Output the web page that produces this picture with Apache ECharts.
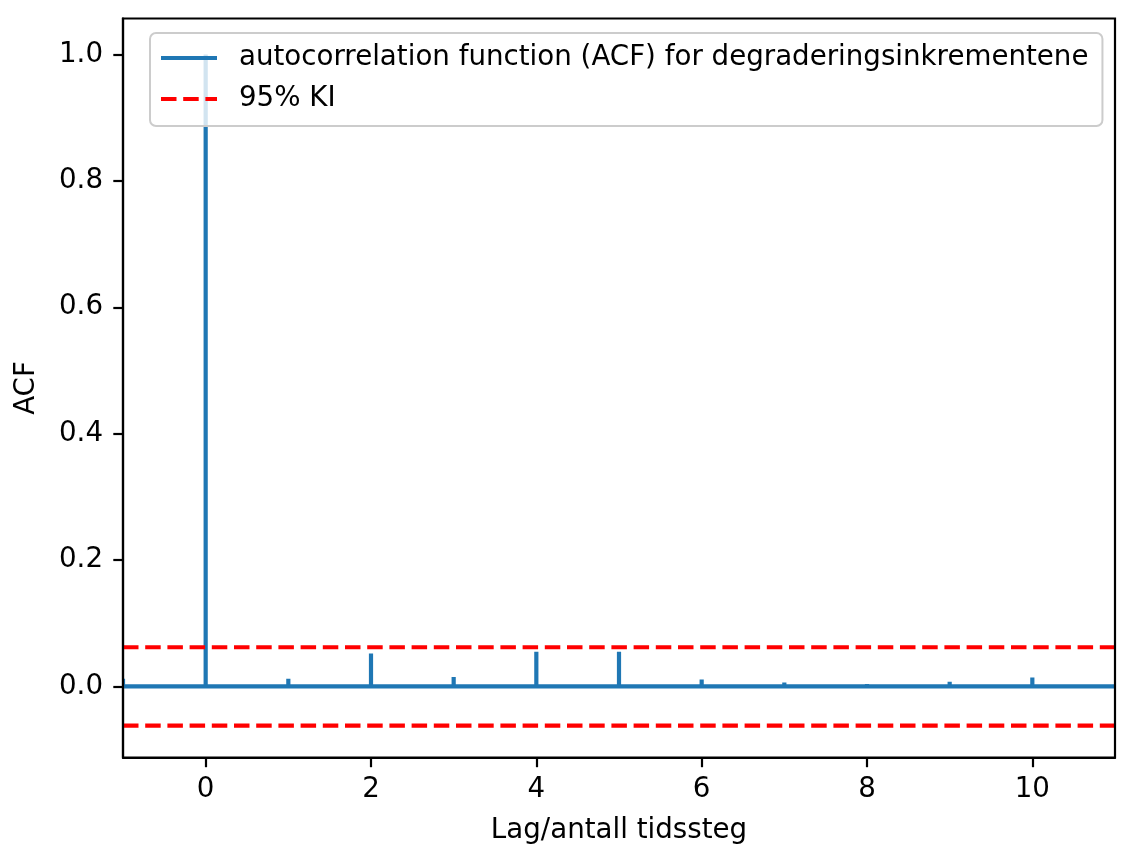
<!DOCTYPE html>
<html>
<head>
<meta charset="utf-8">
<script src="https://cdn.jsdelivr.net/npm/echarts@6/dist/echarts.min.js"></script>
<style>
html,body{margin:0;padding:0;background:#fff;}
#chart{width:1134px;height:865px;}
</style>
</head>
<body>
<div id="chart"></div>
<script>
const lags = [-1, 0, 1, 2, 3, 4, 5, 6, 7, 8, 9, 10, 11];
const acfValues = [0.012, 1.0, 0.012, 0.052, 0.015, 0.055, 0.055, 0.011, 0.006, 0.004, 0.0075, 0.014, 0.0];
const ciBound = 0.062;
const xTicks = [0, 2, 4, 6, 8, 10];
const yTicks = [0.0, 0.2, 0.4, 0.6, 0.8, 1.0];
const xRange = [-1, 11];
const yRange = [-0.1125, 1.057];

const acfName = 'autocorrelation function (ACF) for degraderingsinkrementene';
const ciName = '95% KI';
const FONT = 'DejaVu Sans';
const FS = 27.7;

const stemData = lags.map((l, i) => [l, acfValues[i]]);

const solidIcon = 'path://M0,0h56v4.2h-56z';
const dashIcon = 'path://M0,0h15.5v4.2h-15.5z M22.2,0h15.5v4.2h-15.5z M44.4,0h11.6v4.2h-11.6z';

const chart = echarts.init(document.getElementById('chart'), null, {renderer: 'canvas'});
chart.setOption({
  animation: false,
  backgroundColor: '#ffffff',
  textStyle: {fontFamily: FONT},
  grid: {left: 123, right: 19, top: 18.5, bottom: 107.5, show: true, borderColor: '#000', borderWidth: 2.2, backgroundColor: 'transparent', z: 10},
  legend: {
    left: 150, top: 33,
    orient: 'vertical',
    padding: [10, 14, 12, 11],
    itemGap: 11,
    itemWidth: 56,
    itemHeight: 4.2,
    backgroundColor: 'rgba(255,255,255,0.8)',
    borderColor: '#cccccc',
    borderWidth: 2,
    borderRadius: 6,
    itemStyle: {borderWidth: 0},
    textStyle: {fontFamily: FONT, fontSize: FS, color: '#000', lineHeight: 30, padding: [0, 0, 0, 17]},
    data: [
      {name: acfName, icon: solidIcon, itemStyle: {color: '#1f77b4', borderWidth: 0}},
      {name: ciName, icon: dashIcon, itemStyle: {color: '#ff0000', borderWidth: 0}}
    ]
  },
  xAxis: {
    type: 'value', min: xRange[0], max: xRange[1],
    name: 'Lag/antall tidssteg', nameLocation: 'middle', nameGap: 59,
    nameTextStyle: {fontFamily: FONT, fontSize: FS, color: '#000'},
    axisLine: {show: true, onZero: false, lineStyle: {color: '#000', width: 2.2}},
    axisTick: {show: true, inside: false, length: 9.7, lineStyle: {color: '#000', width: 2.2}, customValues: xTicks},
    axisLabel: {fontFamily: FONT, fontSize: FS, color: '#000', margin: 18, customValues: xTicks, formatter: v => String(v)},
    splitLine: {show: false}
  },
  yAxis: {
    type: 'value', min: yRange[0], max: yRange[1],
    name: 'ACF', nameLocation: 'middle', nameGap: 82, nameRotate: 90,
    nameTextStyle: {fontFamily: FONT, fontSize: FS, color: '#000'},
    axisLine: {show: true, onZero: false, lineStyle: {color: '#000', width: 2.2}},
    axisTick: {show: true, inside: false, length: 9.7, lineStyle: {color: '#000', width: 2.2}, customValues: yTicks},
    axisLabel: {fontFamily: FONT, fontSize: FS, color: '#000', margin: 20, customValues: yTicks, formatter: v => v.toFixed(1)},
    splitLine: {show: false}
  },
  series: [
    {
      name: acfName, type: 'line',
      data: [[xRange[0], 0], [xRange[1], 0]],
      symbol: 'none', showSymbol: false,
      lineStyle: {color: '#1f77b4', width: 4.2, cap: 'butt'},
      itemStyle: {color: '#1f77b4'},
      z: 3, clip: true
    },
    {
      name: acfName, type: 'custom',
      data: stemData,
      clip: true,
      z: 3,
      renderItem: function (params, api) {
        const x = api.value(0), v = api.value(1);
        const p0 = api.coord([x, 0]);
        const p1 = api.coord([x, v]);
        return {
          type: 'line',
          shape: {x1: p0[0], y1: p0[1], x2: p1[0], y2: p1[1]},
          style: {stroke: '#1f77b4', lineWidth: 4.2, lineCap: 'butt'}
        };
      }
    },
    {
      name: ciName, type: 'line',
      data: [[xRange[0], ciBound], [xRange[1], ciBound], '-', [xRange[0], -ciBound], [xRange[1], -ciBound]],
      connectNulls: false,
      symbol: 'none', showSymbol: false,
      lineStyle: {color: '#ff0000', width: 4.2, type: [15.5, 6.7], cap: 'butt'},
      itemStyle: {color: '#ff0000'},
      z: 4, clip: true
    }
  ]
});
</script>
</body>
</html>
